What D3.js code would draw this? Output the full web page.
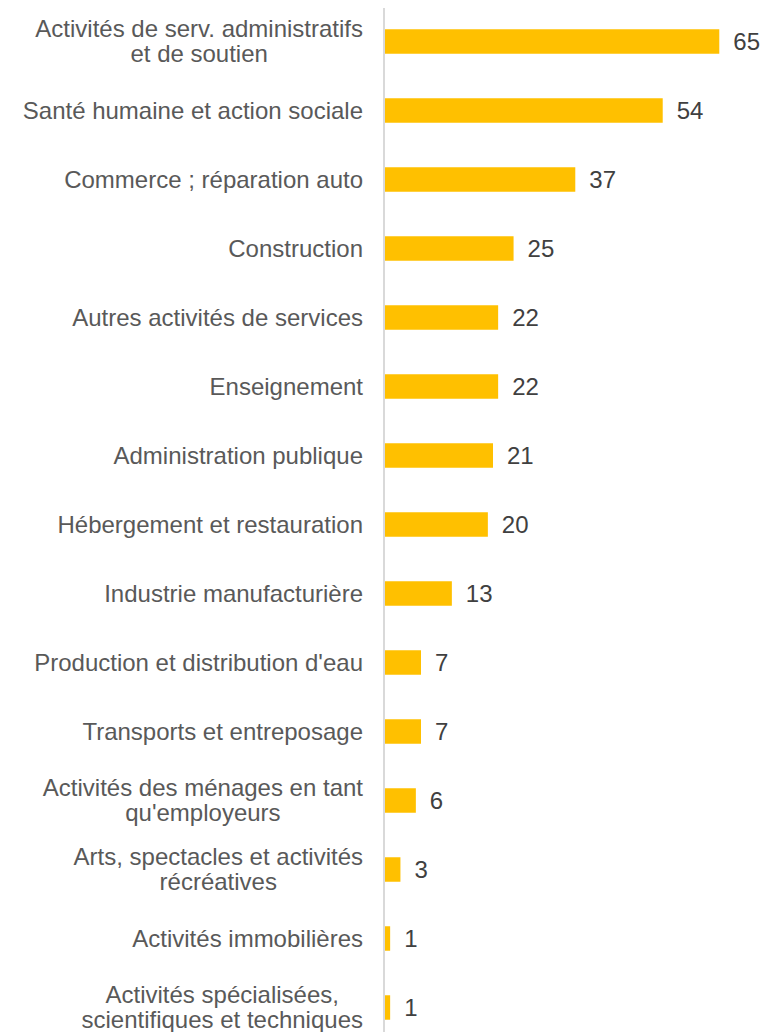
<!DOCTYPE html>
<html>
<head>
<meta charset="utf-8">
<script src="https://cdn.jsdelivr.net/npm/d3@7"></script>
<style>
  body { margin: 0; background: #fff; }
  text { font-family: "Liberation Sans", Arial, sans-serif; }
</style>
</head>
<body>
<script>
// secteurs (les sauts de ligne suivent ceux du graphique d'origine)
var categories = [
  "Activités de serv. administratifs\net de soutien",
  "Santé humaine et action sociale",
  "Commerce ; réparation auto",
  "Construction",
  "Autres activités de services",
  "Enseignement",
  "Administration publique",
  "Hébergement et restauration",
  "Industrie manufacturière",
  "Production et distribution d'eau",
  "Transports et entreposage",
  "Activités des ménages en tant\nqu'employeurs",
  "Arts, spectacles et activités\nrécréatives",
  "Activités immobilières",
  "Activités spécialisées,\nscientifiques et techniques"
];
var values = [65, 54, 37, 25, 22, 22, 21, 20, 13, 7, 7, 6, 3, 1, 1];

var width = 763, height = 1032;

var svg = d3.select('body').append('svg')
  .attr('width', width).attr('height', height);

var x = d3.scaleLinear().domain([0, 70]).range([385, 745]);
var y = d3.scaleBand().domain(categories).range([7, 1042])
  .paddingInner(0.645).paddingOuter(0.3225);

// barres
svg.selectAll('rect.bar')
  .data(values)
  .enter()
  .append('rect')
  .attr('class', 'bar')
  .attr('x', x(0))
  .attr('y', function (d, i) { return y(categories[i]); })
  .attr('width', function (d) { return x(d) - x(0); })
  .attr('height', y.bandwidth())
  .attr('fill', '#FFC000');

// axe vertical
svg.append('line')
  .attr('x1', 384).attr('x2', 384)
  .attr('y1', 8).attr('y2', height)
  .attr('stroke', '#d9d9d9').attr('stroke-width', 2);

// libellés des catégories
var labels = svg.selectAll('text.cat')
  .data(categories)
  .enter()
  .append('text')
  .attr('class', 'cat')
  .attr('text-anchor', 'middle')
  .attr('fill', '#595959')
  .style('font-size', '24px');

labels.each(function (d) {
  var lines = d.split('\n');
  var t = d3.select(this);
  var cy = y(d) + y.bandwidth() / 2;
  var lh = 25;
  var y0 = cy - (lines.length - 1) * lh / 2;
  lines.forEach(function (l, k) {
    t.append('tspan')
      .attr('y', y0 + k * lh)
      .attr('dy', '0.35em')
      .text(l);
  });
});
// bloc aligné à droite, lignes centrées entre elles
labels.each(function () {
  var t = d3.select(this);
  var spans = t.selectAll('tspan');
  var w = 0;
  spans.each(function () { w = Math.max(w, this.getComputedTextLength()); });
  spans.attr('x', 363 - w / 2);
});

// valeurs
svg.selectAll('text.val')
  .data(values)
  .enter()
  .append('text')
  .attr('class', 'val')
  .attr('x', function (d) { return x(d) + 14; })
  .attr('y', function (d, i) { return y(categories[i]) + y.bandwidth() / 2; })
  .attr('dy', '0.35em')
  .attr('fill', '#404040')
  .style('font-size', '24px')
  .text(function (d) { return d; });
</script>
</body>
</html>
